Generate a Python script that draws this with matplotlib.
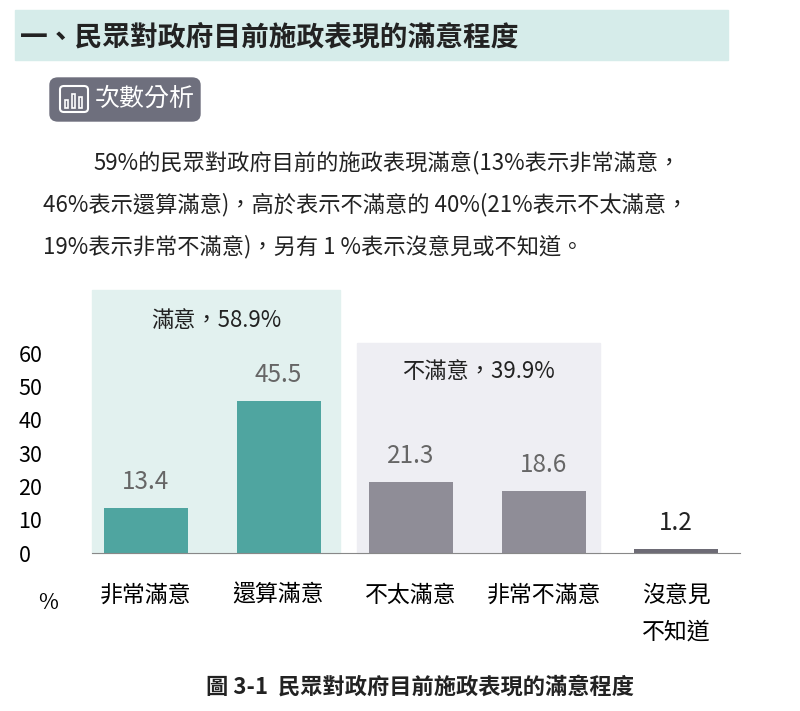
import matplotlib.pyplot as plt
from matplotlib.patches import Rectangle, FancyBboxPatch

plt.rcParams['font.family'] = ['Noto Sans CJK TC', 'DejaVu Sans']

categories = ['非常滿意', '還算滿意', '不太滿意', '非常不滿意', '沒意見\n不知道']
values = [13.4, 45.5, 21.3, 18.6, 1.2]
colors = ['#4fa5a0', '#4fa5a0', '#8f8d97', '#8f8d97', '#6d6b75']
yticks = [0, 10, 20, 30, 40, 50, 60]

W, H = 800, 711
fig = plt.figure(figsize=(W / 100, H / 100), dpi=100)

def fx(x):
    return x / W

def fy(y):
    return 1 - y / H

# header
fig.patches.append(Rectangle((fx(15), fy(60)), fx(713), 50 / H, transform=fig.transFigure,
                             color='#d6ecea', zorder=0))
fig.text(fx(20), fy(37), '一、民眾對政府目前施政表現的滿意程度', fontsize=20, fontweight='bold',
         va='center', color='#222222')
# badge
fig.patches.append(FancyBboxPatch((fx(50), fy(121)), fx(150), 43 / H, transform=fig.transFigure,
                                  boxstyle='round,pad=0,rounding_size=0.01', color='#6e6f7d'))
fig.patches.append(FancyBboxPatch((fx(60), fy(112)), fx(28), 26 / H, transform=fig.transFigure,
                                  boxstyle='round,pad=0,rounding_size=0.005', fill=False,
                                  ec='white', lw=1.5))
for i, h in enumerate([8, 14, 11]):
    fig.patches.append(Rectangle((fx(65 + i * 7), fy(108)), fx(3), h / H,
                                 transform=fig.transFigure, fill=False, ec='white', lw=1.2))
fig.text(fx(95), fy(99), '次數分析', fontsize=18, color='white', va='center')

para = ['59%的民眾對政府目前的施政表現滿意(13%表示非常滿意，',
        '46%表示還算滿意)，高於表示不滿意的 40%(21%表示不太滿意，',
        '19%表示非常不滿意)，另有 1 %表示沒意見或不知道。']
fig.text(fx(93), fy(163), para[0], fontsize=16, va='center', color='#222222')
fig.text(fx(43), fy(205), para[1], fontsize=16, va='center', color='#222222')
fig.text(fx(43), fy(247), para[2], fontsize=16, va='center', color='#222222')

# chart
ax = fig.add_axes([fx(92), fy(553), fx(648), 200 / H])
x = list(range(len(values)))
step = 132.5
ax.set_xlim((92 - 146) / step, (740 - 146) / step)
ax.set_ylim(0, 60)
ax.add_patch(Rectangle(((92 - 146) / step, 0), (340 - 92) / step, (553 - 290) / 3.333,
                       color='#e2f1ef', clip_on=False, zorder=0))
ax.add_patch(Rectangle(((357 - 146) / step, 0), (600 - 357) / step, (553 - 343) / 3.333,
                       color='#eeeef3', clip_on=False, zorder=0))
ax.text((216 - 146) / step, (553 - 321) / 3.333, '滿意，58.9%', fontsize=16, ha='center',
        va='center', color='#222222')
ax.text((478 - 146) / step, (553 - 372) / 3.333, '不滿意，39.9%', fontsize=16, ha='center',
        va='center', color='#222222')
ax.bar(x, values, width=84 / step, color=colors, zorder=2)
for i, v in enumerate(values):
    ax.text(i, v + 4, f'{v}', ha='center', va='bottom', fontsize=17.5,
            color='#222222' if i == 4 else '#666666')
for s in ['top', 'right', 'left']:
    ax.spines[s].set_visible(False)
ax.spines['bottom'].set_color('#888888')
ax.set_xticks(x)
ax.set_xticklabels(categories, fontsize=16.5, linespacing=1.75, va='top')
ax.tick_params(axis='x', length=0, pad=22)
ax.set_yticks(yticks)
ax.set_yticklabels([str(t) for t in yticks], fontsize=15.5, ha='left')
ax.tick_params(axis='y', length=0, pad=53)
fig.text(fx(38), fy(603), '%', fontsize=15.5, va='center')

fig.text(fx(420), fy(687), '圖 3-1  民眾對政府目前施政表現的滿意程度', fontsize=16, fontweight='bold',
         ha='center', va='center', color='#222222')

fig.savefig('out.png', dpi=100, facecolor='white')
